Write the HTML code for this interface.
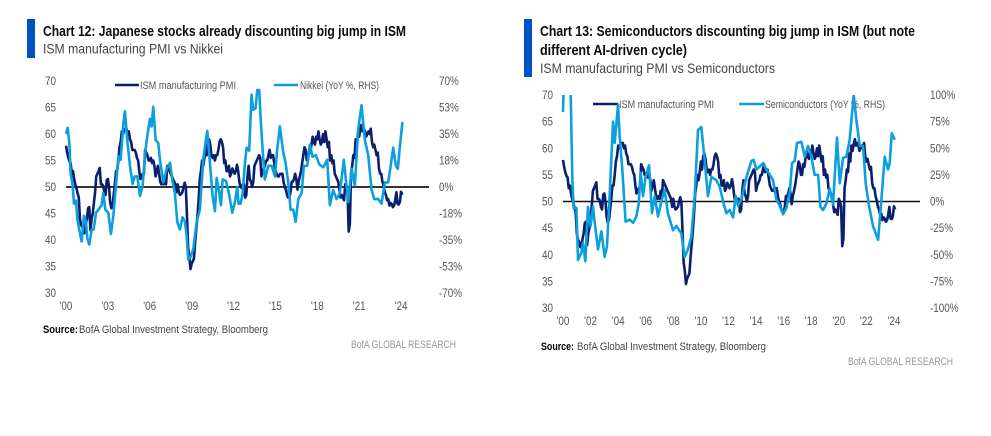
<!DOCTYPE html>
<html lang="en">
<head>
<meta charset="utf-8">
<title>ISM vs Nikkei and Semiconductors</title>
<style>
html,body{margin:0;padding:0;background:#fff;width:991px;height:436px;overflow:hidden}
svg{display:block;font-family:"Liberation Sans",sans-serif}
.title{font-size:14.5px;font-weight:700;fill:#0b0b12}
.sub{font-size:14px;fill:#444}
.tick{font-size:11.5px;fill:#555}
.legend{font-size:11px;fill:#555}
.src{font-size:11px;fill:#444}
.srcb{font-size:11px;font-weight:700;fill:#000}
.brand{font-size:11px;fill:#999}
</style>
</head>
<body>
<svg id="root" width="991" height="436" viewBox="0 0 991 436" xmlns="http://www.w3.org/2000/svg">
  <defs>
    <clipPath id="clip-left"><rect x="60" y="81" width="375" height="212"/></clipPath>
    <clipPath id="clip-right"><rect x="555" y="95" width="370" height="213"/></clipPath>
  </defs>

  <rect x="27" y="19" width="8" height="39" fill="#0052c2"/>
  <text class="title" x="43" y="36" textLength="363" lengthAdjust="spacingAndGlyphs">Chart 12: Japanese stocks already discounting big jump in ISM</text>
  <text class="sub" x="43" y="53.5" textLength="180" lengthAdjust="spacingAndGlyphs">ISM manufacturing PMI vs Nikkei</text>
  <line x1="115" x2="139" y1="85" y2="85" stroke="#0a1f6e" stroke-width="2.6"/>
  <text class="legend" x="140" y="89" textLength="96" lengthAdjust="spacingAndGlyphs">ISM manufacturing PMI</text>
  <line x1="274" x2="298" y1="85" y2="85" stroke="#0c9fdd" stroke-width="2.6"/>
  <text class="legend" x="300" y="89" textLength="79" lengthAdjust="spacingAndGlyphs">Nikkei (YoY %, RHS)</text>
  <text x="43" y="333"><tspan class="srcb" textLength="35" lengthAdjust="spacingAndGlyphs">Source:</tspan></text>
  <text class="src" x="79" y="333" textLength="189" lengthAdjust="spacingAndGlyphs">BofA Global Investment Strategy, Bloomberg</text>
  <text class="brand" x="351" y="348" textLength="105" lengthAdjust="spacingAndGlyphs">BofA GLOBAL RESEARCH</text>

  <rect x="524" y="19" width="8" height="58" fill="#0052c2"/>
  <text class="title" x="540" y="36" textLength="375" lengthAdjust="spacingAndGlyphs">Chart 13: Semiconductors discounting big jump in ISM (but note</text>
  <text class="title" x="540" y="55" textLength="147" lengthAdjust="spacingAndGlyphs">different AI-driven cycle)</text>
  <text class="sub" x="540" y="73" textLength="235" lengthAdjust="spacingAndGlyphs">ISM manufacturing PMI vs Semiconductors</text>
  <line x1="593" x2="618" y1="104" y2="104" stroke="#0a1f6e" stroke-width="2.6"/>
  <text class="legend" x="619" y="108" textLength="95" lengthAdjust="spacingAndGlyphs">ISM manufacturing PMI</text>
  <line x1="739" x2="764" y1="104" y2="104" stroke="#0c9fdd" stroke-width="2.6"/>
  <text class="legend" x="765" y="108" textLength="120" lengthAdjust="spacingAndGlyphs">Semiconductors (YoY %, RHS)</text>
  <text x="541" y="350"><tspan class="srcb" textLength="33" lengthAdjust="spacingAndGlyphs">Source:</tspan></text>
  <text class="src" x="577" y="350" textLength="189" lengthAdjust="spacingAndGlyphs">BofA Global Investment Strategy, Bloomberg</text>
  <text class="brand" x="848" y="365" textLength="105" lengthAdjust="spacingAndGlyphs">BofA GLOBAL RESEARCH</text>

  <g id="plot-left"></g>
  <g id="plot-right"></g>
</svg>

<script>
// Monthly ISM manufacturing PMI, January 2000 onward.
var ismStartYear = 2000;
var ismValues = [
57.8,56.5,55.5,54.8,54.5,52.5,53,51.5,50.5,49.8,48.8,48,
44,42.8,42.5,41.5,41.3,43,44,46,46.2,41.8,44,45,
47,49,52,52.5,53,53.6,50.5,50.5,50.2,49,48.5,51.3,
51.5,50,47,46,46.5,48.5,50.5,53,53,55,57.5,58.5,
60.5,60,60.8,61,61,60,60.5,59,58.5,57,57,57,
56.5,55.5,55,53,51.5,52,52.5,52.5,57,56.5,56,55,
55,55.5,54.5,55,54,52,53,54,52.5,51,50.5,51,
50.5,52,50.5,54,53.5,53,52.5,52,51.5,51,50.5,49,
50.5,49,48.5,48.7,49,50,50.8,50,44.5,38.5,37,34.5,
35.5,36,36.5,39.5,42,44.5,47.5,51.5,53,55,54,55.5,
57.5,56,58.5,59,58,56,55.5,56,55,56,56,57,
58.5,59,58.5,57.5,54.5,55,53,53,54,52,52.5,53.5,
53,52.5,53,54.2,53,51,50,49.8,50.5,50.5,48,48.5,
52,54,51.5,51,50,51,54,54.5,55,55.5,56,55.5,
52,53,53.5,54,55,55,56,57,55.5,56,56,54.5,
53,52.5,52,52,52.5,52.5,52.5,51,50,49.5,48.5,48,
48,49,51,51,51.5,52.5,51.5,49.5,51,52,53,54.5,
56,57.5,57,55,55,57,56.5,58,59.5,58.5,58,59.5,
59,60.5,59,58,58.5,60,58.5,60.5,59,57.5,58.5,55,
56,54.5,55,52.5,52,51.5,51,49.5,48,48.5,48,47.5,
50.5,50,49,41.6,43,52.5,54,56,55.5,59,57.5,60.5,
59.5,60.8,61.7,60.5,61,60.5,59.5,60,60.5,60,61,58.5,
57.5,58,57,56,56.5,53.5,52.5,52.5,51,50.2,49,48.5,
47.5,47.7,46.5,47,46.8,46.2,46.5,47.5,49,46.8,46.7,47.2,
49.1,48.5
];

// Nikkei YoY %.
var nikkeiDates = [
2000,2000.12,2000.24,2000.33,2000.48,2000.57,2000.72,2000.81,2000.95,2001.12,2001.29,2001.43,2001.53,2001.67,2001.84,2001.98,
2002.15,2002.32,2002.55,2002.67,2002.82,2003.03,2003.22,2003.39,2003.58,2003.75,2003.91,2004.11,2004.22,2004.39,2004.58,2004.77,2004.92,
2005.11,2005.3,2005.49,2005.7,2005.89,2006.01,2006.13,2006.25,2006.42,2006.61,2006.73,2006.97,2007.21,2007.45,2007.64,2007.8,2007.97,
2008.16,2008.35,2008.52,2008.64,2008.76,2008.93,2009.12,2009.36,2009.59,2009.83,2010.02,2010.12,2010.31,2010.5,2010.67,2010.79,2010.98,
2011.1,2011.22,2011.46,2011.69,2011.91,2012.1,2012.27,2012.36,2012.51,2012.65,2012.82,2012.94,2013.12,2013.2,2013.29,2013.41,2013.58,2013.7,2013.84,2013.94,
2014.08,2014.25,2014.49,2014.73,2014.97,2015.13,2015.32,2015.56,2015.73,2015.92,2016.09,2016.28,2016.45,2016.64,2016.88,
2017.04,2017.28,2017.47,2017.66,2017.9,2018.14,2018.43,2018.71,2018.9,2019.14,2019.38,2019.62,2019.9,2020.22,2020.46,2020.69,2020.93,
2021.17,2021.41,2021.65,2021.89,2022.08,2022.37,2022.6,2022.84,2023.08,2023.32,2023.44,2023.63,2023.77,2023.92,2024.1
];
var nikkeiValues = [
35,39,29,9,1,-11,-9,-21,-28,-36,-19,-23,-34,-38,-28,-28,
-17,-15,-12,-4,-15,-17,-31,-19,1,20,18,42,50,31,14,2,7,
7,-6,1,25,38,45,40,53,31,29,18,3,12,16,3,-4,-23,
-28,-20,-23,-32,-48,-46,-41,-23,-15,18,31,37,16,-6,-16,6,-4,
-12,5,4,-5,-17,-10,0,-11,-11,-4,16,26,24,41,61,51,52,64,64,46,
25,5,14,14,7,25,40,23,16,3,-15,-15,-23,-8,-4,
14,14,28,20,21,15,13,18,-12,-2,-8,-4,18,-10,12,1,38,
54,31,21,-2,-8,-8,-11,3,3,18,26,14,12,27,43
];

// Semiconductors YoY % (values above 100 run off the axis).
var semisDates = [
2000,2000.03,2000.07,2000.48,2000.56,2000.6,2000.68,2000.77,2000.97,2001.09,2001.33,2001.45,2001.62,2001.81,
2002,2002.18,2002.3,2002.54,2002.78,2003.02,2003.19,2003.38,2003.63,2003.75,2003.99,2004.11,2004.3,2004.54,2004.83,
2005.08,2005.32,2005.49,2005.63,2005.8,2005.99,2006.24,2006.45,2006.65,2006.89,2007.13,2007.37,2007.61,2007.98,
2008.22,2008.58,2008.82,2009.06,2009.31,2009.55,2009.79,2010.03,2010.27,2010.51,2010.76,2011.12,2011.36,2011.65,2011.85,
2012.09,2012.33,2012.53,2012.69,2012.94,2013.25,2013.42,2013.66,2013.83,2014.02,2014.27,2014.51,2014.75,2015,2015.23,2015.47,2015.72,2015.96,
2016.2,2016.44,2016.61,2016.8,2016.97,2017.29,2017.53,2017.77,2018.01,2018.25,2018.5,2018.67,2018.86,2019.1,2019.34,2019.58,2019.87,
2020.07,2020.31,2020.55,2020.79,2021.08,2021.27,2021.52,2021.76,2021.95,2022.19,2022.48,2022.85,2023.09,2023.33,2023.57,2023.69,2023.84,2024.06
];
var semisValues = [
84,100,130,125,100,73,20,-6,-6,-55,-48,-39,-56,-5,
-23,-5,-20,-45,-28,-52,-42,5,75,55,91,61,30,-19,-17,
-20,-14,-2,27,5,23,34,-11,5,-14,0,11,-11,-27,
-23,-30,-52,-45,-33,5,67,70,39,5,23,20,14,-2,-11,
-8,-15,5,-4,2,20,28,38,39,30,33,36,30,25,20,2,-4,-12,
-6,8,36,38,55,56,42,52,42,25,25,-5,-8,-2,12,-3,60,
17,41,42,58,100,77,52,52,17,-4,-23,-36,2,42,30,36,64,58
];

// Axis tick labels.
var leftAxisLhsTicks = [70,65,60,55,50,45,40,35,30];
var leftAxisRhsTicks = ['70%','53%','35%','18%','0%','-18%','-35%','-53%','-70%'];
var leftAxisYears = [2000,2003,2006,2009,2012,2015,2018,2021,2024];
var rightAxisLhsTicks = [70,65,60,55,50,45,40,35,30];
var rightAxisRhsTicks = ['100%','75%','50%','25%','0%','-25%','-50%','-75%','-100%'];
var rightAxisYears = [2000,2002,2004,2006,2008,2010,2012,2014,2016,2018,2020,2022,2024];

var SVG_NS = 'http://www.w3.org/2000/svg';

function addTick(group, text, x, y, anchor, name) {
  var el = document.createElementNS(SVG_NS, 'text');
  el.setAttribute('class', 'tick');
  el.setAttribute('x', x);
  el.setAttribute('y', y);
  el.setAttribute('text-anchor', anchor);
  
  
  el.textContent = text;
  group.appendChild(el);
  var w = el.getComputedTextLength();
  el.setAttribute('textLength', (w * 0.86).toFixed(1));
  el.setAttribute('lengthAdjust', 'spacingAndGlyphs');
}

function addSeries(group, xs, ys, xScale, yScale, color, clip, name) {
  var d = '';
  for (var i = 0; i < xs.length; i++) {
    d += (i ? 'L' : 'M') + xScale(xs[i]).toFixed(2) + ' ' + yScale(ys[i]).toFixed(2);
  }
  var path = document.createElementNS(SVG_NS, 'path');
  path.setAttribute('d', d);
  path.setAttribute('fill', 'none');
  path.setAttribute('stroke', color);
  path.setAttribute('stroke-width', '2.6');
  path.setAttribute('stroke-linejoin', 'round');
  path.setAttribute('clip-path', 'url(#' + clip + ')');
  
  
  group.appendChild(path);
}

function drawChart(cfg) {
  var g = document.getElementById(cfg.groupId);
  var xScale = function (yr) { return cfg.x0 + (yr - 2000) * cfg.pxPerYear; };
  var yLhs = function (v) { return cfg.yTop + (70 - v) * (cfg.yBottom - cfg.yTop) / 40; };
  var yRhs = function (v) { return cfg.yTop + (cfg.rhsMax - v) * (cfg.yBottom - cfg.yTop) / (2 * cfg.rhsMax); };

  cfg.lhsTicks.forEach(function (t) {
    addTick(g, String(t), cfg.lhsX, yLhs(t) + 4, 'start', 'lhs-tick-label');
  });
  cfg.rhsTicks.forEach(function (t, i) {
    addTick(g, t, cfg.rhsX, yLhs(cfg.lhsTicks[i]) + 4, 'start', 'rhs-tick-label');
  });
  cfg.years.forEach(function (yr) {
    addTick(g, "'" + String(yr).slice(2), xScale(yr), cfg.xLabelY, 'middle', 'x-tick-label');
  });

  var ismDates = ismValues.map(function (_, i) { return ismStartYear + i / 12; });
  addSeries(g, ismDates, ismValues, xScale, yLhs, '#0a1f6e', cfg.clip, 'ism-line');
  addSeries(g, cfg.dates, cfg.values, xScale, yRhs, '#0c9fdd', cfg.clip, cfg.seriesName);

  var zero = document.createElementNS(SVG_NS, 'line');
  zero.setAttribute('x1', cfg.x0);
  zero.setAttribute('x2', cfg.zeroEnd);
  zero.setAttribute('y1', yLhs(50));
  zero.setAttribute('y2', yLhs(50));
  zero.setAttribute('stroke', cfg.zeroColor);
  zero.setAttribute('stroke-width', cfg.zeroWidth);
  
  
  g.insertBefore(zero, g.querySelector('path'));
}

drawChart({
  groupId: 'plot-left', clip: 'clip-left', x0: 66, pxPerYear: 13.96, yTop: 81, yBottom: 293,
  rhsMax: 70, lhsX: 45, rhsX: 439, xLabelY: 310, zeroEnd: 429, zeroColor: '#333', zeroWidth: 2,
  lhsTicks: leftAxisLhsTicks, rhsTicks: leftAxisRhsTicks, years: leftAxisYears,
  dates: nikkeiDates, values: nikkeiValues, seriesName: 'nikkei-line'
});
drawChart({
  groupId: 'plot-right', clip: 'clip-right', x0: 563, pxPerYear: 13.79, yTop: 95, yBottom: 308,
  rhsMax: 100, lhsX: 542, rhsX: 930, xLabelY: 325, zeroEnd: 920, zeroColor: '#111', zeroWidth: 1.6,
  lhsTicks: rightAxisLhsTicks, rhsTicks: rightAxisRhsTicks, years: rightAxisYears,
  dates: semisDates, values: semisValues, seriesName: 'semiconductors-line'
});
</script>
</body>
</html>
